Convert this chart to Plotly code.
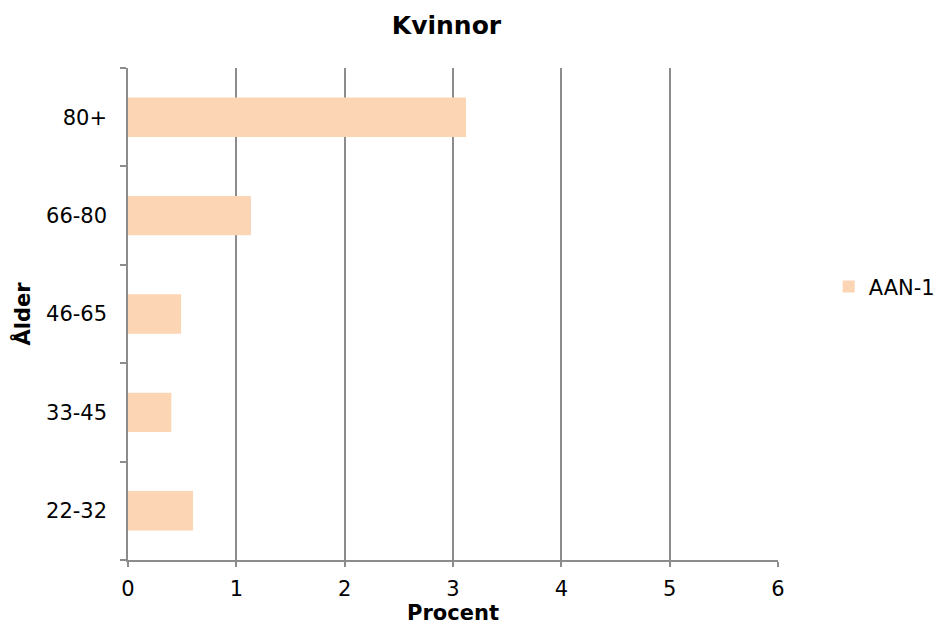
import plotly.graph_objects as go

# Age groups and share (percent) for women
age_groups = ["22-32", "33-45", "46-65", "66-80", "80+"]
percent = [0.60, 0.40, 0.49, 1.135, 3.12]
series_name = "AAN-1"
x_ticks = [0, 1, 2, 3, 4, 5, 6]

font_family = "DejaVu Sans, Verdana, sans-serif"
grid_color = "#8c8c8c"

fig = go.Figure()
fig.add_trace(go.Bar(
    y=age_groups,
    x=percent,
    orientation="h",
    name=series_name,
    marker=dict(color="#FCD5B5", line=dict(width=0)),
    width=0.4,
    showlegend=True,
))

fig.update_layout(
    width=938,
    height=628,
    margin=dict(l=128, r=160, t=68, b=68, autoexpand=False),
    paper_bgcolor="white",
    plot_bgcolor="white",
    font=dict(family=font_family, size=21, color="black"),
    title=dict(
        text="<b>Kvinnor</b>",
        x=0.476, xanchor="center",
        y=0.96, yanchor="middle",
        font=dict(size=25, family=font_family),
    ),
    legend=dict(
        x=1.078, xanchor="left",
        y=0.555, yanchor="middle",
        font=dict(size=21),
        itemwidth=30,
    ),
    showlegend=True,
)

fig.update_xaxes(
    range=[0, 6],
    tickvals=x_ticks,
    showgrid=True,
    gridcolor=grid_color,
    gridwidth=1.5,
    zeroline=False,
    showline=True,
    linecolor=grid_color,
    linewidth=1.5,
    ticks="outside",
    ticklen=5,
    tickcolor=grid_color,
    tickwidth=1.5,
    ticklabelstandoff=4,
    title=dict(text="<b>Procent</b>", font=dict(size=21), standoff=2),
    fixedrange=True,
)

fig.update_yaxes(
    categoryorder="array",
    categoryarray=age_groups,
    showgrid=False,
    showline=True,
    linecolor=grid_color,
    linewidth=1.5,
    ticks="outside",
    tickson="boundaries",
    ticklen=6,
    tickcolor=grid_color,
    tickwidth=1.5,
    ticklabelstandoff=15,
    title=dict(text="<b>Ålder</b>", font=dict(size=21), standoff=10),
    fixedrange=True,
)

fig.write_html("out.html")
